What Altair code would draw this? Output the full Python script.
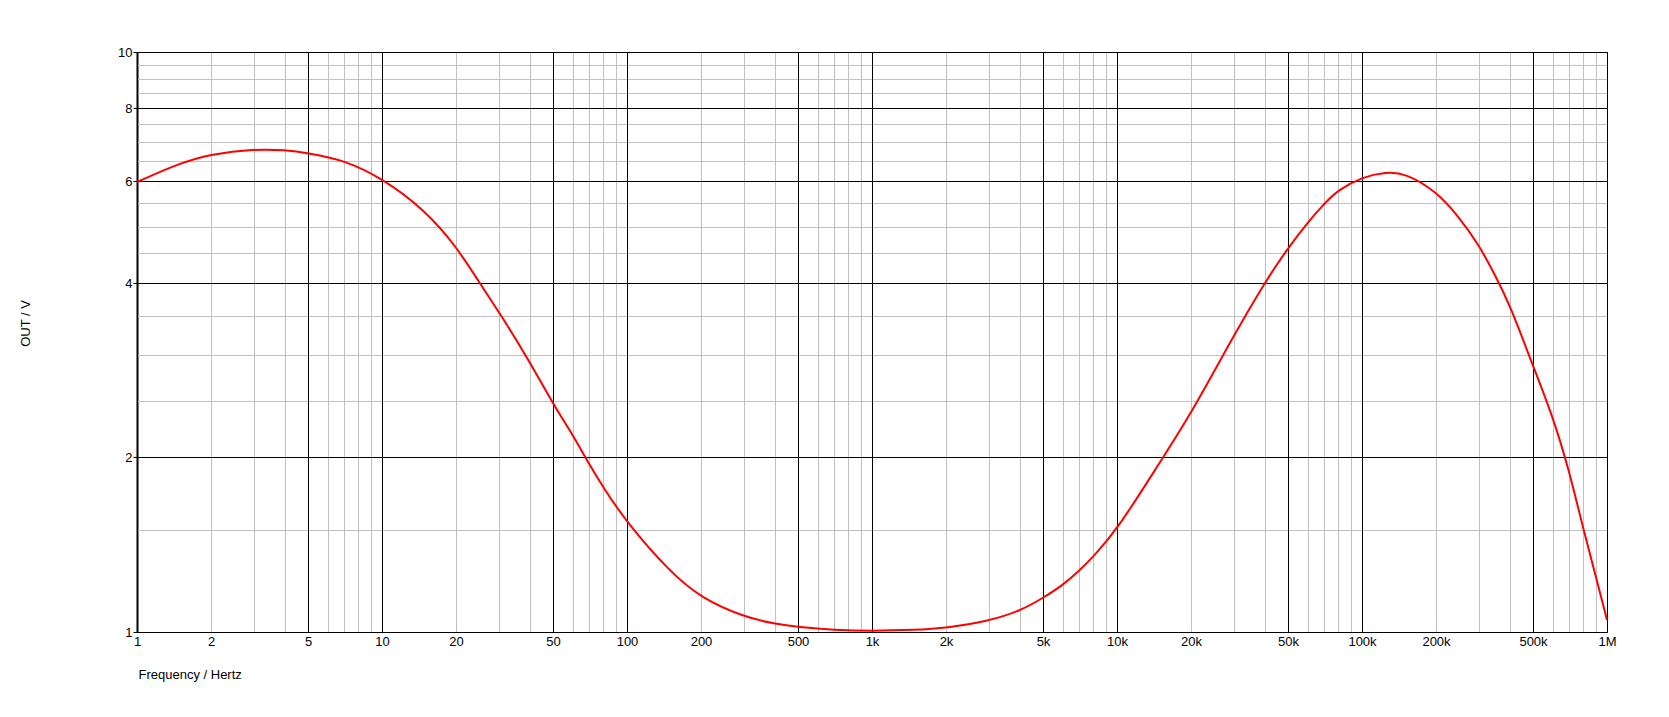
import altair as alt
import pandas as pd

# ---- data ----
freq = [1, 1.5, 2, 3, 4, 5, 7, 10, 15, 20, 25, 30, 40, 50, 60, 70, 80, 100,
        150, 200, 300, 400, 500, 700, 1000, 1500, 2000, 3000, 4000, 5000,
        6000, 7000, 8000, 10000, 15000, 20000, 30000, 40000, 50000, 60000,
        70000, 80000, 100000, 125000, 150000, 200000, 250000, 300000, 350000,
        400000, 500000, 600000, 700000, 800000, 900000, 1000000]
out_v = [5.96, 6.44, 6.67, 6.80, 6.79, 6.71, 6.51, 6.07, 5.34, 4.63, 4.02, 3.56,
         2.92, 2.47, 2.19, 1.95, 1.78, 1.54, 1.27, 1.145, 1.06, 1.032, 1.02,
         1.009, 1.004, 1.007, 1.017, 1.046, 1.088, 1.143, 1.207, 1.275, 1.345,
         1.50, 1.967, 2.38, 3.25, 4.01, 4.59, 5.10, 5.47, 5.78, 6.08, 6.21,
         6.18, 5.75, 5.20, 4.65, 4.13, 3.66, 2.87, 2.35, 1.90, 1.509, 1.246,
         1.049]

x_label_values = [1, 2, 5, 10, 20, 50, 100, 200, 500, 1000, 2000, 5000, 10000,
                  20000, 50000, 100000, 200000, 500000, 1000000]
x_major_grid = [1, 5, 10, 50, 100, 500, 1000, 5000, 10000, 50000, 100000,
                500000, 1000000]
x_minor_grid = [2, 3, 4, 6, 7, 8, 9,
                20, 30, 40, 60, 70, 80, 90,
                200, 300, 400, 600, 700, 800, 900,
                2000, 3000, 4000, 6000, 7000, 8000, 9000,
                20000, 30000, 40000, 60000, 70000, 80000, 90000,
                200000, 300000, 400000, 600000, 700000, 800000, 900000]
y_major_grid = [1, 2, 4, 6, 8, 10]
y_minor_grid = [1.5, 2.5, 3, 3.5, 4.5, 5, 5.5, 6.5, 7, 7.5, 8.5, 9, 9.5]

W, H = 1470, 580
FONT = "Liberation Sans"

df = pd.DataFrame({"freq": freq, "out": out_v})

xs = alt.Scale(type="log", domain=[1, 1000000], nice=False, round=True)
ys = alt.Scale(type="log", domain=[1, 10], nice=False, round=True)

x_label_expr = ("datum.value >= 1000000 ? format(datum.value/1000000,'d') + 'M' : "
                "datum.value >= 1000 ? format(datum.value/1000,'d') + 'k' : "
                "format(datum.value,'d')")

x_axis = alt.Axis(
    values=x_label_values, labelExpr=x_label_expr, grid=False,
    ticks=False, tickSize=0, labelPadding=3, labelFlush=False,
    labelOverlap=False, labelBound=False,
    labelFont=FONT, labelFontSize=13, labelColor="#000000",
    domainColor="#000000", domainWidth=1,
    title="Frequency / Hertz", titleFont=FONT, titleFontSize=13,
    titleFontWeight="normal", titleColor="#000000",
    titleAlign="left", titleBaseline="alphabetic", titleAngle=0,
    titleX=1, titleY=46)

y_axis = alt.Axis(
    values=y_major_grid, format="d", grid=False,
    ticks=True, tickSize=4, tickColor="#000000", tickWidth=1,
    labelPadding=1, labelFlush=False, labelOverlap=False,
    labelBaseline="middle",
    labelFont=FONT, labelFontSize=13, labelColor="#000000",
    domainColor="#000000", domainWidth=2,
    title="OUT / V", titleFont=FONT, titleFontSize=13,
    titleFontWeight="normal", titleColor="#000000",
    titleAngle=270, titleAlign="center", titleBaseline="middle",
    titleX=-112, titleY=271)

vminor = alt.Chart(pd.DataFrame({"freq": x_minor_grid})).mark_rule(
    color="#c0c0c0", strokeWidth=1, xOffset=0.5
).encode(x=alt.X("freq:Q", scale=xs, axis=x_axis), y=alt.value(0), y2=alt.value(H))

hminor = alt.Chart(pd.DataFrame({"out": y_minor_grid})).mark_rule(
    color="#c0c0c0", strokeWidth=1, yOffset=0.5
).encode(y=alt.Y("out:Q", scale=ys, axis=y_axis), x=alt.value(0), x2=alt.value(W))

vmajor = alt.Chart(pd.DataFrame({"freq": x_major_grid})).mark_rule(
    color="#000000", strokeWidth=1, xOffset=0.5
).encode(x=alt.X("freq:Q", scale=xs, axis=x_axis), y=alt.value(0), y2=alt.value(H))

hmajor = alt.Chart(pd.DataFrame({"out": y_major_grid})).mark_rule(
    color="#000000", strokeWidth=1, yOffset=0.5
).encode(y=alt.Y("out:Q", scale=ys, axis=y_axis), x=alt.value(0), x2=alt.value(W))

line = alt.Chart(df).mark_line(
    color="#ff0000", strokeWidth=2, interpolate="basis"
).encode(
    x=alt.X("freq:Q", scale=xs, axis=x_axis),
    y=alt.Y("out:Q", scale=ys, axis=y_axis),
)

chart = alt.layer(vminor, hminor, vmajor, hmajor, line).properties(
    width=W, height=H,
    autosize=alt.AutoSizeParams(type="none"),
    padding={"left": 129, "top": 44, "right": 40, "bottom": 60},
    background="white",
).configure_view(stroke="#000000", strokeWidth=1)

chart.save("out.html", embed_options={"renderer": "svg", "actions": False})
